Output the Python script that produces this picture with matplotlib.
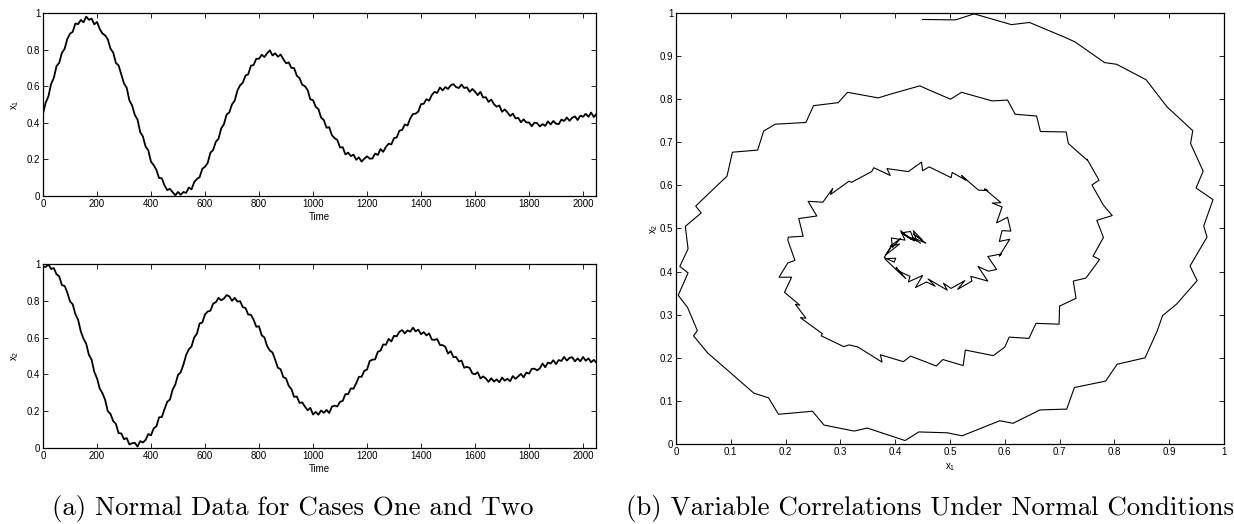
import numpy as np
import matplotlib
matplotlib.use("Agg")
import matplotlib.pyplot as plt
from matplotlib.ticker import FuncFormatter, MultipleLocator

plt.rcParams['font.family'] = ['Liberation Sans', 'DejaVu Sans']
plt.rcParams['mathtext.fontset'] = 'custom'
plt.rcParams['mathtext.rm'] = 'Liberation Sans'
plt.rcParams['mathtext.it'] = 'Liberation Sans'

# ---- data ----
time = list(range(0, 2041, 10)) + [2048]

x1 = [0.450, 0.510, 0.544, 0.612, 0.645, 0.709, 0.728, 0.782, 0.804, 0.858,
      0.887, 0.897, 0.943, 0.939, 0.962, 0.949, 0.980, 0.963, 0.969, 0.938,
      0.951, 0.913, 0.888, 0.878, 0.856, 0.805, 0.784, 0.727, 0.713, 0.664,
      0.615, 0.591, 0.522, 0.495, 0.443, 0.418, 0.349, 0.325, 0.270, 0.249,
      0.187, 0.169, 0.142, 0.098, 0.097, 0.058, 0.032, 0.039, 0.021, 0.004,
      0.022, 0.007, 0.022, 0.017, 0.046, 0.036, 0.076, 0.093, 0.103, 0.149,
      0.160, 0.181, 0.237, 0.251, 0.296, 0.313, 0.369, 0.392, 0.445, 0.457,
      0.501, 0.521, 0.577, 0.605, 0.619, 0.658, 0.665, 0.712, 0.716, 0.750,
      0.750, 0.772, 0.759, 0.780, 0.796, 0.768, 0.780, 0.761, 0.773, 0.748,
      0.725, 0.730, 0.700, 0.699, 0.657, 0.644, 0.608, 0.600, 0.579, 0.528,
      0.524, 0.487, 0.475, 0.428, 0.415, 0.373, 0.376, 0.332, 0.316, 0.306,
      0.265, 0.267, 0.227, 0.237, 0.218, 0.226, 0.198, 0.211, 0.188, 0.204,
      0.217, 0.204, 0.205, 0.232, 0.224, 0.257, 0.241, 0.268, 0.286, 0.282,
      0.316, 0.320, 0.357, 0.361, 0.391, 0.385, 0.424, 0.448, 0.450, 0.462,
      0.502, 0.504, 0.529, 0.521, 0.552, 0.569, 0.563, 0.593, 0.577, 0.595,
      0.585, 0.605, 0.611, 0.595, 0.590, 0.609, 0.590, 0.594, 0.569, 0.585,
      0.570, 0.551, 0.569, 0.538, 0.540, 0.514, 0.527, 0.502, 0.488, 0.495,
      0.460, 0.473, 0.457, 0.437, 0.450, 0.424, 0.427, 0.403, 0.419, 0.402,
      0.402, 0.381, 0.401, 0.398, 0.380, 0.393, 0.383, 0.408, 0.391, 0.410,
      0.395, 0.393, 0.418, 0.410, 0.429, 0.411, 0.428, 0.435, 0.415, 0.439,
      0.433, 0.449, 0.433, 0.456, 0.431, 0.446]

x2 = [0.985, 0.984, 0.998, 0.973, 0.978, 0.944, 0.933, 0.885, 0.881, 0.845,
      0.797, 0.781, 0.727, 0.697, 0.633, 0.594, 0.567, 0.506, 0.480, 0.413,
      0.379, 0.324, 0.298, 0.262, 0.200, 0.185, 0.146, 0.131, 0.081, 0.079,
      0.048, 0.054, 0.019, 0.026, 0.028, 0.008, 0.037, 0.030, 0.044, 0.076,
      0.069, 0.107, 0.118, 0.167, 0.168, 0.211, 0.251, 0.263, 0.317, 0.345,
      0.397, 0.412, 0.453, 0.505, 0.536, 0.552, 0.601, 0.621, 0.677, 0.682,
      0.726, 0.742, 0.746, 0.785, 0.792, 0.816, 0.803, 0.812, 0.831, 0.824,
      0.800, 0.816, 0.796, 0.798, 0.765, 0.761, 0.725, 0.724, 0.697, 0.659,
      0.661, 0.612, 0.601, 0.554, 0.530, 0.519, 0.479, 0.436, 0.428, 0.385,
      0.378, 0.338, 0.320, 0.278, 0.280, 0.245, 0.248, 0.225, 0.205, 0.218,
      0.182, 0.196, 0.181, 0.204, 0.191, 0.207, 0.190, 0.225, 0.230, 0.226,
      0.251, 0.256, 0.293, 0.292, 0.324, 0.322, 0.352, 0.387, 0.387, 0.420,
      0.426, 0.473, 0.480, 0.482, 0.523, 0.529, 0.563, 0.561, 0.593, 0.579,
      0.610, 0.607, 0.632, 0.641, 0.623, 0.639, 0.632, 0.654, 0.634, 0.643,
      0.618, 0.630, 0.612, 0.623, 0.589, 0.588, 0.592, 0.560, 0.559, 0.550,
      0.513, 0.526, 0.494, 0.495, 0.470, 0.475, 0.436, 0.441, 0.435, 0.405,
      0.401, 0.412, 0.378, 0.389, 0.378, 0.359, 0.379, 0.361, 0.373, 0.357,
      0.383, 0.366, 0.376, 0.363, 0.391, 0.376, 0.389, 0.403, 0.384, 0.410,
      0.404, 0.430, 0.431, 0.422, 0.433, 0.459, 0.439, 0.464, 0.459, 0.477,
      0.456, 0.478, 0.473, 0.495, 0.475, 0.490, 0.493, 0.471, 0.487, 0.471,
      0.495, 0.474, 0.487, 0.466, 0.479, 0.466]

caption_a = "(a) Normal Data for Cases One and Two"
caption_b = "(b) Variable Correlations Under Normal Conditions"

# ---- figure ----
W, H = 1234, 524
fig = plt.figure(figsize=(W / 100, H / 100), dpi=100)

def fr(l, t, r, b):
    return [l / W, 1 - b / H, (r - l) / W, (b - t) / H]

fmt = FuncFormatter(lambda v, p: ('%g' % round(v, 3)))

def style(ax):
    ax.tick_params(direction='in', top=True, right=True, length=3.5, width=0.6,
                   labelsize=7, pad=2, colors='black')
    for s in ax.spines.values():
        s.set_linewidth(0.9)
    ax.xaxis.set_major_formatter(fmt)
    ax.yaxis.set_major_formatter(fmt)

ax1 = fig.add_axes(fr(43, 13, 596, 196))
ax1.plot(time, x1, color='black', lw=1.3)
ax1.set_xlim(0, 2048)
ax1.set_ylim(0, 1)
ax1.xaxis.set_major_locator(MultipleLocator(200))
ax1.yaxis.set_major_locator(MultipleLocator(0.2))
style(ax1)
ax1.set_xlabel('Time', fontsize=7, labelpad=2.5)
ax1.set_ylabel(r'x$_{\mathrm{1}}$', fontsize=7, labelpad=4)

ax2 = fig.add_axes(fr(43, 264, 596, 448))
ax2.plot(time, x2, color='black', lw=1.3)
ax2.set_xlim(0, 2048)
ax2.set_ylim(0, 1)
ax2.xaxis.set_major_locator(MultipleLocator(200))
ax2.yaxis.set_major_locator(MultipleLocator(0.2))
style(ax2)
ax2.set_xlabel('Time', fontsize=7, labelpad=2.5)
ax2.set_ylabel(r'x$_{\mathrm{2}}$', fontsize=7, labelpad=4)

ax3 = fig.add_axes(fr(676, 13, 1224, 444))
ax3.plot(x1, x2, color='black', lw=0.8)
ax3.set_xlim(0, 1)
ax3.set_ylim(0, 1)
ax3.xaxis.set_major_locator(MultipleLocator(0.1))
ax3.yaxis.set_major_locator(MultipleLocator(0.1))
style(ax3)
ax3.set_xlabel(r'x$_{\mathrm{1}}$', fontsize=7, labelpad=3)
ax3.set_ylabel(r'x$_{\mathrm{2}}$', fontsize=7, labelpad=0)

fig.text(293 / W, 1 - 508 / H, caption_a, family='cmr10', fontsize=19.3,
         ha='center', va='center')
fig.text(930 / W, 1 - 508 / H, caption_b, family='cmr10', fontsize=19.3,
         ha='center', va='center')

fig.savefig('out.png', dpi=100)
